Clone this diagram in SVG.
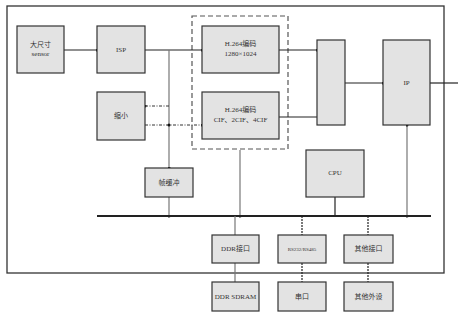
<svg xmlns="http://www.w3.org/2000/svg" width="458" height="323" viewBox="0 0 458 323">
<style>
.box{fill:#e3e3e3;stroke:#333;stroke-width:1.2}
.t{font-family:"Liberation Serif","Noto Sans CJK SC",serif;font-size:7px;fill:#333;text-anchor:middle}
.ln{stroke:#222;stroke-width:1.2;fill:none}
.gl{stroke:#777;stroke-width:1.2;fill:none}
.dd{stroke:#333;stroke-width:1;fill:none;stroke-dasharray:3,1.5,1,1.5}
.bus{stroke:#222;stroke-width:2;fill:none}
</style>
<defs>
<marker id="dot" viewBox="0 0 4 4" refX="2" refY="2" markerWidth="3" markerHeight="3" markerUnits="userSpaceOnUse"><circle cx="2" cy="2" r="2" fill="#111"/></marker>
</defs>
<rect x="0" y="0" width="458" height="323" fill="#fff"/>
<rect x="7" y="6" width="437" height="267" fill="none" stroke="#333" stroke-width="1.3"/>
<rect x="192" y="16" width="96" height="133" fill="none" stroke="#555" stroke-width="1.2" stroke-dasharray="5,3"/>
<g id="connectors">
<line class="ln" x1="64" y1="50" x2="97" y2="50" marker-end="url(#dot)"/>
<line class="ln" x1="145" y1="50" x2="202" y2="50" marker-end="url(#dot)"/>
<line class="gl" x1="169" y1="50" x2="169" y2="168" marker-end="url(#dot)"/>
<line class="dd" x1="169" y1="106" x2="145" y2="106" marker-end="url(#dot)"/>
<line class="dd" x1="145" y1="125" x2="202" y2="125" marker-end="url(#dot)"/>
<circle cx="169" cy="125" r="1.5" fill="#111"/>
<line class="ln" x1="279" y1="50" x2="317" y2="50" marker-end="url(#dot)"/>
<line class="ln" x1="279" y1="117" x2="317" y2="117"/>
<line class="ln" x1="345" y1="83" x2="383" y2="83" marker-end="url(#dot)"/>
<line class="ln" x1="430" y1="83" x2="458" y2="83"/>
<line class="gl" x1="169" y1="197" x2="169" y2="216" marker-end="url(#dot)"/>
<line class="gl" x1="240" y1="150" x2="240" y2="216" marker-end="url(#dot)"/>
<line class="ln" x1="335" y1="197" x2="335" y2="216"/>
<line class="gl" x1="407" y1="125" x2="407" y2="216" marker-end="url(#dot)" marker-start="url(#dot)"/>
<line class="bus" x1="97" y1="216" x2="431" y2="216"/>
<line class="gl" x1="235" y1="216" x2="235" y2="235"/>
<line class="ln" x1="302" y1="216" x2="302" y2="235" stroke-dasharray="2,1"/>
<line class="ln" x1="368" y1="216" x2="368" y2="235" stroke-dasharray="2,1"/>
<line class="gl" x1="235" y1="263" x2="235" y2="282"/>
<line class="ln" x1="302" y1="263" x2="302" y2="282" stroke-dasharray="2,1"/>
<line class="ln" x1="368" y1="263" x2="368" y2="282" stroke-dasharray="2,1"/>
</g>
<g id="sensor"><rect class="box" x="17" y="26" width="47" height="47"/><text class="t" x="40.5" y="47">大尺寸</text><text class="t" x="40.5" y="56">sensor</text></g>
<g id="isp"><rect class="box" x="97" y="26" width="48" height="47"/><text class="t" x="121" y="52">ISP</text></g>
<g id="scale"><rect class="box" x="97" y="92" width="48" height="48"/><text class="t" x="121" y="118">缩小</text></g>
<g id="h264a"><rect class="box" x="202" y="26" width="77" height="47"/><text class="t" x="240.5" y="46">H.264编码</text><text class="t" x="240.5" y="56">1280×1024</text></g>
<g id="h264b"><rect class="box" x="202" y="92" width="77" height="47"/><text class="t" x="240.5" y="112">H.264编码</text><text class="t" x="240.5" y="122">CIF、2CIF、4CIF</text></g>
<g id="mux"><rect class="box" x="317" y="40" width="28" height="85"/></g>
<g id="ip"><rect class="box" x="383" y="40" width="47" height="85"/><text class="t" x="406.5" y="85">IP</text></g>
<g id="fbuf"><rect class="box" x="145" y="168" width="48" height="29"/><text class="t" x="169" y="185">帧缓冲</text></g>
<g id="cpu"><rect class="box" x="306" y="150" width="58" height="47"/><text class="t" x="335" y="175">CPU</text></g>
<g id="ddrif"><rect class="box" x="212" y="235" width="47" height="28"/><text class="t" x="235.5" y="251">DDR接口</text></g>
<g id="rs"><rect class="box" x="278" y="235" width="48" height="28"/><text class="t" x="302" y="251" style="font-size:5px">RS232/RS485</text></g>
<g id="otherif"><rect class="box" x="344" y="235" width="49" height="28"/><text class="t" x="368.5" y="251">其他接口</text></g>
<g id="ddr"><rect class="box" x="212" y="282" width="47" height="29"/><text class="t" x="235.5" y="299">DDR SDRAM</text></g>
<g id="uart"><rect class="box" x="278" y="282" width="48" height="29"/><text class="t" x="302" y="299">串口</text></g>
<g id="periph"><rect class="box" x="344" y="282" width="49" height="29"/><text class="t" x="368.5" y="299">其他外设</text></g>
</svg>
